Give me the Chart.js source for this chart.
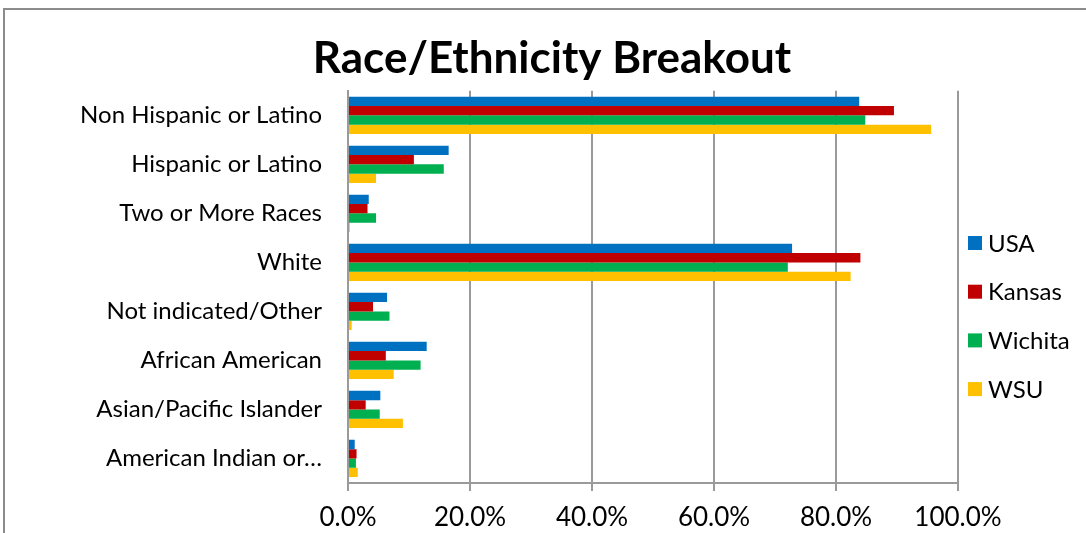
<!DOCTYPE html>
<html>
<head>
<meta charset="utf-8">
<script src="https://cdn.jsdelivr.net/npm/chart.js@4/dist/chart.umd.min.js"></script>
<style>
html,body{margin:0;padding:0;background:#fff;}
#wrap{width:1086px;height:533px;position:relative;}
</style>
</head>
<body>
<div id="wrap"><canvas id="c" width="1086" height="533"></canvas></div>
<script>
const categories = ["Non Hispanic or Latino","Hispanic or Latino","Two or More Races","White","Not indicated/Other","African American","Asian/Pacific Islander","American Indian or…"];
const seriesNames = ["USA","Kansas","Wichita","WSU"];
const usa     = [83.8, 16.5, 3.4, 72.8, 6.4, 12.9, 5.3, 1.1];
const kansas  = [89.5, 10.8, 3.2, 84.0, 4.1, 6.2, 2.9, 1.4];
const wichita = [84.8, 15.7, 4.6, 72.1, 6.8, 11.9, 5.2, 1.3];
const wsu     = [95.6, 4.6, 0.3, 82.4, 0.6, 7.5, 9.0, 1.6];
const xTicks  = [0, 20, 40, 60, 80, 100];
const colors  = ["#0070C0","#C00000","#00B050","#FFC000"];

const FONT = "Lato, 'Liberation Sans', sans-serif";

const framePlugin = {
  id:'frame',
  beforeDraw(chart){
    const ctx = chart.ctx;
    ctx.save();
    ctx.fillStyle='#fff';
    ctx.fillRect(0,0,chart.width,chart.height);
    ctx.strokeStyle='#8c8c8c';
    ctx.lineWidth=2;
    ctx.strokeRect(4,9,1200,600);
    ctx.restore();
  }
};

// Legend as a real layout box on the right side
const legendPlugin = {
  id:'sideLegend',
  beforeInit(chart){
    const box = {
      position:'right',
      weight:1000,
      fullSize:false,
      options:{},
      isHorizontal(){ return false; },
      update(maxWidth, maxHeight){ this.width = 128; this.height = maxHeight; },
      draw(){
        const ctx = chart.ctx;
        ctx.save();
        ctx.font = "24px " + FONT;
        ctx.textBaseline='middle';
        ctx.textAlign='left';
        const x0 = this.left + 10;
        chart.data.datasets.forEach((ds,i)=>{
          const y = 243 + i*48.7;
          ctx.fillStyle = ds.backgroundColor;
          ctx.fillRect(x0, y-7, 14, 14);
          ctx.fillStyle = '#000';
          ctx.fillText(ds.label, x0 + 20, y+1);
        });
        ctx.restore();
      }
    };
    chart.$sideLegend = box;
    Chart.layouts.addBox(chart, box);
  }
};

const datasets = [usa,kansas,wichita,wsu].map((d,i)=>({
  label: seriesNames[i],
  data: d,
  backgroundColor: colors[i],
  borderColor: colors[i],
  borderWidth: 0,
  barPercentage: 1.0,
  categoryPercentage: 0.76
}));

new Chart(document.getElementById('c'), {
  type:'bar',
  data:{ labels: categories, datasets },
  options:{
    indexAxis:'y',
    responsive:false,
    animation:false,
    layout:{ padding:{ left:18, right:0, top:0, bottom:0 } },
    plugins:{
      legend:{ display:false },
      tooltip:{ enabled:false },
      title:{
        display:true,
        text:'Race/Ethnicity Breakout',
        color:'#000',
        font:{ family:FONT, size:44, weight:'bold' },
        padding:{ top:32, bottom:6 }
      }
    },
    scales:{
      x:{
        min:0, max:100,
        afterBuildTicks(scale){ scale.ticks = xTicks.map(v=>({value:v})); },
        ticks:{
          callback:(v)=>Number(v).toFixed(1)+'%',
          color:'#000',
          font:{ family:FONT, size:26 },
          padding:11
        },
        grid:{ color:'#9a9a9a', lineWidth:2, tickLength:8, drawTicks:true },
        border:{ display:true, color:'#9a9a9a', width:2 },
        afterFit(scale){ scale.height = 50; }
      },
      y:{
        ticks:{
          color:'#000',
          font:{ family:FONT, size:24 },
          padding:26
        },
        grid:{ display:false, drawTicks:false },
        border:{ display:true, color:'#9a9a9a', width:2 },
        afterFit(scale){ scale.width = 330; }
      }
    }
  },
  plugins:[framePlugin, legendPlugin]
});
</script>
</body>
</html>
